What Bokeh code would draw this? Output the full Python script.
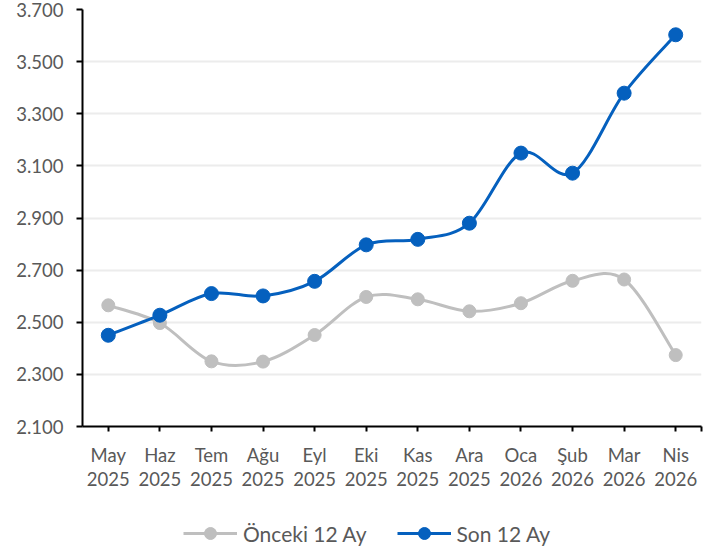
import numpy as np
from bokeh.plotting import figure
from bokeh.layouts import column
from bokeh.models import FixedTicker, LinearAxis, Legend, LegendItem, ColumnDataSource, Range1d
from bokeh.embed import file_html
from bokeh.resources import INLINE

# ---- data ----
months = ["May", "Haz", "Tem", "Ağu", "Eyl", "Eki", "Kas", "Ara", "Oca", "Şub", "Mar", "Nis"]
years = ["2025", "2025", "2025", "2025", "2025", "2025", "2025", "2025", "2026", "2026", "2026", "2026"]
onceki_12_ay = [2565, 2497, 2350, 2349, 2451, 2597, 2588, 2542, 2573, 2659, 2664, 2374]
son_12_ay = [2450, 2527, 2610, 2601, 2657, 2797, 2818, 2880, 3149, 3072, 3379, 3603]
y_ticks = [2100, 2300, 2500, 2700, 2900, 3100, 3300, 3500, 3700]
y_tick_labels = ["2.100", "2.300", "2.500", "2.700", "2.900", "3.100", "3.300", "3.500", "3.700"]
series_names = ["Önceki 12 Ay", "Son 12 Ay"]

FONT = "Lato"
TEXT = "#595959"
GRAY = "#BFBFBF"
BLUE = "#0560BE"

x = np.arange(len(months), dtype=float)


def smooth_segments(xs, ys):
    """Excel-like smoothed line as cubic Bezier segments (Catmull-Rom)."""
    xs = np.asarray(xs, float)
    ys = np.asarray(ys, float)
    n = len(xs)
    d = dict(x0=[], y0=[], x1=[], y1=[], cx0=[], cy0=[], cx1=[], cy1=[])
    for i in range(n - 1):
        im = max(i - 1, 0)
        ip2 = min(i + 2, n - 1)
        d["x0"].append(xs[i]); d["y0"].append(ys[i])
        d["x1"].append(xs[i + 1]); d["y1"].append(ys[i + 1])
        d["cx0"].append(xs[i] + (xs[i + 1] - xs[im]) / 6)
        d["cy0"].append(ys[i] + (ys[i + 1] - ys[im]) / 6)
        d["cx1"].append(xs[i + 1] - (xs[ip2] - xs[i]) / 6)
        d["cy1"].append(ys[i + 1] - (ys[ip2] - ys[i]) / 6)
    return ColumnDataSource(d)


p = figure(frame_width=619, frame_height=417, x_range=(-0.5, 11.5), y_range=(2100, 3700),
           output_backend="svg", toolbar_location=None,
           min_border_left=82, min_border_right=16, min_border_top=9, min_border_bottom=74)
p.outline_line_color = None
p.background_fill_color = "white"
p.border_fill_color = "white"

# y axis
yax = p.yaxis[0]
yax.ticker = FixedTicker(ticks=y_ticks)
yax.major_label_overrides = {t: l for t, l in zip(y_ticks, y_tick_labels)}
yax.major_tick_out = 6
yax.major_tick_in = 0
yax.minor_tick_out = 0
yax.minor_tick_in = 0
yax.axis_line_color = "black"
yax.axis_line_width = 2
yax.major_tick_line_color = "black"
yax.major_tick_line_width = 2
yax.major_label_standoff = 13
yax.major_label_text_font = FONT
yax.major_label_text_font_size = "18.5px"
yax.major_label_text_color = TEXT

p.xgrid.visible = False
p.ygrid.ticker = FixedTicker(ticks=y_ticks)
p.ygrid.grid_line_color = "#ECECEC"
p.ygrid.grid_line_width = 2

# x axis: months
xax = p.xaxis[0]
xax.ticker = FixedTicker(ticks=list(range(len(months))), minor_ticks=[11.5])
xax.major_label_overrides = {i: m for i, m in enumerate(months)}
xax.major_tick_out = 5
xax.major_tick_in = 0
xax.minor_tick_out = 5
xax.minor_tick_in = 0
xax.minor_tick_line_color = "black"
xax.minor_tick_line_width = 2
xax.axis_line_color = "black"
xax.axis_line_width = 2
xax.major_tick_line_color = "black"
xax.major_tick_line_width = 2
xax.major_label_standoff = 12
xax.major_label_text_font = FONT
xax.major_label_text_font_size = "18.5px"
xax.major_label_text_color = TEXT

# x axis: years
yr_ax = LinearAxis(ticker=FixedTicker(ticks=list(range(len(years)))),
                   major_label_overrides={i: y for i, y in enumerate(years)})
yr_ax.axis_line_color = None
yr_ax.major_tick_line_color = None
yr_ax.minor_tick_line_color = None
yr_ax.major_tick_out = 0
yr_ax.major_tick_in = 0
yr_ax.major_label_standoff = 3
yr_ax.major_label_text_font = FONT
yr_ax.major_label_text_font_size = "18.5px"
yr_ax.major_label_text_color = TEXT
p.add_layout(yr_ax, "below")

# series
p.bezier(source=smooth_segments(x, onceki_12_ay), x0="x0", y0="y0", x1="x1", y1="y1",
         cx0="cx0", cy0="cy0", cx1="cx1", cy1="cy1", line_color=GRAY, line_width=3)
p.scatter(x=x, y=onceki_12_ay, size=13, fill_color=GRAY, line_color=GRAY)

p.bezier(source=smooth_segments(x, son_12_ay), x0="x0", y0="y0", x1="x1", y1="y1",
         cx0="cx0", cy0="cy0", cx1="cx1", cy1="cy1", line_color=BLUE, line_width=3)
p.scatter(x=x, y=son_12_ay, size=14, fill_color=BLUE, line_color=BLUE)

# legend strip (separate figure below the chart so it is not clipped)
lg = figure(frame_width=717, frame_height=52, x_range=Range1d(0, 1), y_range=Range1d(0, 1),
            output_backend="svg", toolbar_location=None,
            x_axis_location=None, y_axis_location=None,
            min_border_left=0, min_border_right=0, min_border_top=0, min_border_bottom=0)
lg.outline_line_color = None
lg.xgrid.visible = False
lg.ygrid.visible = False
lg.background_fill_color = "white"
lg.border_fill_color = "white"

items = []
for name, vals, col in zip(series_names, [onceki_12_ay, son_12_ay], [GRAY, BLUE]):
    lr = lg.line(x=x, y=vals, line_color=col, line_width=3, visible=False)
    sr = lg.scatter(x=x, y=vals, size=13, fill_color=col, line_color=col, visible=False)
    items.append(LegendItem(label=name, renderers=[lr, sr]))

legend = Legend(items=items, orientation="horizontal", location=(183, 4),
                border_line_color=None, background_fill_alpha=0,
                label_text_font=FONT, label_text_font_size="21px", label_text_color=TEXT,
                glyph_width=54, glyph_height=30, label_standoff=6, spacing=30,
                padding=0, margin=0)
lg.add_layout(legend, "center")

layout = column(p, lg, spacing=0)
open("out.html", "w").write(file_html(layout, INLINE))
